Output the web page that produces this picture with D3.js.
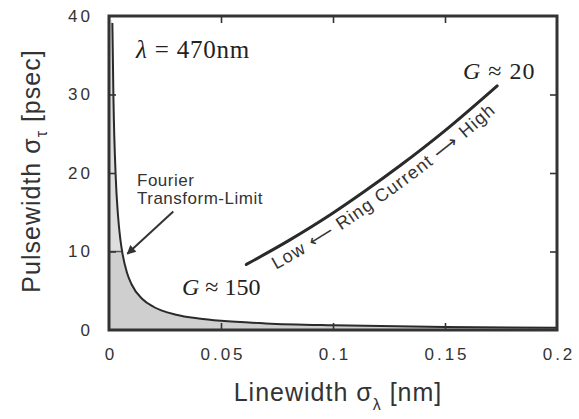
<!DOCTYPE html>
<html><head><meta charset="utf-8">
<script src="https://cdn.jsdelivr.net/npm/d3@7"></script>
<style>body{margin:0;background:#fff} svg{display:block}</style>
</head><body><svg id="c" width="579" height="419"></svg>
<script>
// ---- data ----
const xTickValues = [0, 0.05, 0.1, 0.15, 0.2];
const xTickLabels = ["0", "0.05", "0.1", "0.15", "0.2"];
const yTickValues = [0, 10, 20, 30, 40];
const yTickLabels = ["0", "10", "20", "30", "40"];
// Fourier transform-limit curve (linewidth nm, pulsewidth ps)
const limitX = [0.0015, 0.002, 0.003, 0.004, 0.005, 0.006, 0.008, 0.01, 0.015, 0.02, 0.03, 0.04, 0.05, 0.07, 0.1, 0.15, 0.2];
const limitY = [39.1, 29.3, 19.5, 14.65, 11.7, 9.77, 7.33, 5.86, 3.91, 2.93, 1.95, 1.47, 1.17, 0.84, 0.59, 0.39, 0.29];
// ring-current curve from G≈150 to G≈20
const ringX = [0.0613, 0.08, 0.10, 0.1138, 0.13, 0.15, 0.1733];
const ringY = [8.35, 11.35, 14.9, 17.6, 20.95, 25.4, 31.1];
const limitMarkY = 10;

// ---- layout ----
const W = 579, H = 419;
const m = {left: 109, right: 22, top: 16, bottom: 89};
const svg = d3.select("#c");
const x = d3.scaleLinear().domain([0, 0.2]).range([m.left, W - m.right]);
const y = d3.scaleLinear().domain([0, 40]).range([H - m.bottom, m.top]);
const ink = "#333";
const sans = "'Liberation Sans', Arial, Helvetica, sans-serif";
const serif = "'Liberation Serif', 'Times New Roman', serif";

const defs = svg.append("defs");
defs.append("clipPath").attr("id", "plot").append("rect")
  .attr("x", x(0)).attr("y", y(40)).attr("width", x(0.2) - x(0)).attr("height", y(0) - y(40));
defs.append("clipPath").attr("id", "upper").append("rect")
  .attr("x", x(0)).attr("y", y(40)).attr("width", x(0.2) - x(0)).attr("height", y(limitMarkY) - y(40));
defs.append("clipPath").attr("id", "lower").append("rect")
  .attr("x", x(0)).attr("y", y(limitMarkY)).attr("width", x(0.2) - x(0)).attr("height", y(0) - y(limitMarkY));
defs.append("marker").attr("id", "ah").attr("markerUnits", "userSpaceOnUse")
  .attr("viewBox", "0 0 10 10").attr("refX", 9).attr("refY", 5)
  .attr("markerWidth", 10).attr("markerHeight", 9).attr("orient", "auto")
  .append("path").attr("d", "M0,0 L10,5 L0,10 Z").attr("fill", ink);

const limitPts = limitX.map((v, i) => [v, limitY[i]]);
const areaPts = [[0, 40]].concat(limitPts);
const area = d3.area().x(d => x(d[0])).y0(y(0)).y1(d => y(d[1])).curve(d3.curveMonotoneX);
const g = svg.append("g").attr("clip-path", "url(#plot)");
g.append("g").attr("clip-path", "url(#upper)").append("path")
  .attr("d", area(areaPts)).attr("fill", "#dedede");
g.append("g").attr("clip-path", "url(#lower)").append("path")
  .attr("d", area(areaPts)).attr("fill", "#cfcfcf");
// marker line at 10 ps
const xAt10 = limitX[limitY.findIndex(v => v < limitMarkY)];
g.append("line").attr("x1", x(0)).attr("x2", x(xAt10) - 1)
  .attr("y1", y(limitMarkY)).attr("y2", y(limitMarkY))
  .attr("stroke", "#555").attr("stroke-width", 1.5);
g.append("path").attr("d", d3.line().x(d => x(d[0])).y(d => y(d[1])).curve(d3.curveMonotoneX)(limitPts))
  .attr("fill", "none").attr("stroke", "#2a2a2a").attr("stroke-width", 2);

// ring current curve
const ringPts = ringX.map((v, i) => [x(v), y(ringY[i])]);
svg.append("path").attr("d", d3.line().curve(d3.curveMonotoneX)(ringPts))
  .attr("fill", "none").attr("stroke", "#2a2a2a").attr("stroke-width", 3).attr("stroke-linecap", "round");

// offset path for rotated label
const off = 19;
const offPts = ringPts.map((p, i) => {
  const a = ringPts[Math.max(0, i - 1)], b = ringPts[Math.min(ringPts.length - 1, i + 1)];
  const dx = b[0] - a[0], dy = b[1] - a[1], L = Math.hypot(dx, dy);
  return [p[0] - dy / L * off, p[1] + dx / L * off];
});
const e0 = offPts[0], e1 = offPts[1];
const eN = offPts[offPts.length - 1], eM = offPts[offPts.length - 2];
const ext = (p, q, k) => [p[0] + (p[0] - q[0]) * k, p[1] + (p[1] - q[1]) * k];
const textPts = [ext(e0, e1, 0.3)].concat(offPts, [ext(eN, eM, 0.6)]);
defs.append("path").attr("id", "ringPath").attr("d", d3.line().curve(d3.curveMonotoneX)(textPts));
svg.append("text").attr("font-family", sans).attr("font-size", 18).attr("letter-spacing", 1.1).attr("fill", ink)
  .append("textPath").attr("href", "#ringPath").attr("startOffset", 38)
  .text("Low \u27F5 Ring Current \u27F6 High");

// frame
svg.append("rect").attr("x", x(0)).attr("y", y(40)).attr("width", x(0.2) - x(0)).attr("height", y(0) - y(40))
  .attr("fill", "none").attr("stroke", ink).attr("stroke-width", 3);

// axes (ticks inward)
const styleAxis = sel => {
  sel.select(".domain").remove();
  sel.selectAll(".tick line").attr("stroke", ink).attr("stroke-width", 1.6);
  sel.selectAll(".tick text").attr("fill", ink).attr("font-family", sans).attr("font-size", 17)
    .attr("letter-spacing", 3);
};
const inner = yTickValues.filter(v => v > 0 && v < 40);
const innerX = xTickValues.filter(v => v > 0 && v < 0.2);
svg.append("g").attr("transform", `translate(${x(0)},0)`)
  .call(d3.axisLeft(y).tickValues(yTickValues).tickSize(0).tickPadding(16)
    .tickFormat((d, i) => yTickLabels[i])).call(styleAxis);
svg.append("g").attr("transform", `translate(${x(0)},0)`)
  .call(d3.axisLeft(y).tickValues(inner).tickSize(-7).tickFormat("")).call(styleAxis);
svg.append("g").attr("transform", `translate(${x(0.2)},0)`)
  .call(d3.axisRight(y).tickValues(inner).tickSize(-7).tickFormat("")).call(styleAxis);
svg.append("g").attr("transform", `translate(0,${y(0)})`)
  .call(d3.axisBottom(x).tickValues(xTickValues).tickSize(0).tickPadding(18)
    .tickFormat((d, i) => xTickLabels[i])).call(styleAxis)
  .selectAll(".tick text").attr("dx", 1.5);
svg.append("g").attr("transform", `translate(0,${y(0)})`)
  .call(d3.axisBottom(x).tickValues(innerX).tickSize(-7).tickFormat("")).call(styleAxis);
svg.append("g").attr("transform", `translate(0,${y(40)})`)
  .call(d3.axisTop(x).tickValues(innerX).tickSize(-7).tickFormat("")).call(styleAxis);

// axis titles
const xt = svg.append("text").attr("x", 338).attr("y", 401).attr("text-anchor", "middle")
  .attr("font-family", sans).attr("font-size", 25).attr("letter-spacing", 1).attr("fill", ink);
xt.append("tspan").text("Linewidth σ");
xt.append("tspan").attr("font-size", 16).attr("dy", 9).text("λ");
xt.append("tspan").attr("dy", -9).text(" [nm]");
const yt = svg.append("text").attr("transform", "translate(40,171) rotate(-90)").attr("text-anchor", "middle")
  .attr("font-family", sans).attr("font-size", 25).attr("letter-spacing", 1).attr("fill", ink);
yt.append("tspan").text("Pulsewidth σ");
yt.append("tspan").attr("font-size", 16).attr("dy", 7).text("τ");
yt.append("tspan").attr("dy", -7).text(" [psec]");

// annotations
const lam = svg.append("text").attr("x", 136).attr("y", 58).attr("font-family", serif)
  .attr("font-size", 25).attr("letter-spacing", 0.8).attr("fill", "#222");
lam.append("tspan").attr("font-style", "italic").text("λ");
lam.append("tspan").text(" = 470nm");
const g20 = svg.append("text").attr("x", 463).attr("y", 79).attr("font-family", serif)
  .attr("font-size", 24).attr("letter-spacing", 1).attr("fill", "#222");
g20.append("tspan").attr("font-style", "italic").text("G");
g20.append("tspan").text(" ≈ 20");
const g150 = svg.append("text").attr("x", 182).attr("y", 295).attr("font-family", serif)
  .attr("font-size", 24).attr("fill", "#222");
g150.append("tspan").attr("font-style", "italic").text("G");
g150.append("tspan").text(" ≈ 150");

svg.append("text").attr("x", 137).attr("y", 186).attr("font-family", sans).attr("font-size", 17)
  .attr("letter-spacing", 0.5).attr("fill", ink).text("Fourier");
svg.append("text").attr("x", 137).attr("y", 204).attr("font-family", sans).attr("font-size", 17)
  .attr("letter-spacing", 0.5).attr("fill", ink).text("Transform-Limit");
svg.append("line").attr("x1", x(0.0287)).attr("y1", y(15.1)).attr("x2", x(0.0082)).attr("y2", y(9.7))
  .attr("stroke", ink).attr("stroke-width", 2).attr("marker-end", "url(#ah)");
</script></body></html>
